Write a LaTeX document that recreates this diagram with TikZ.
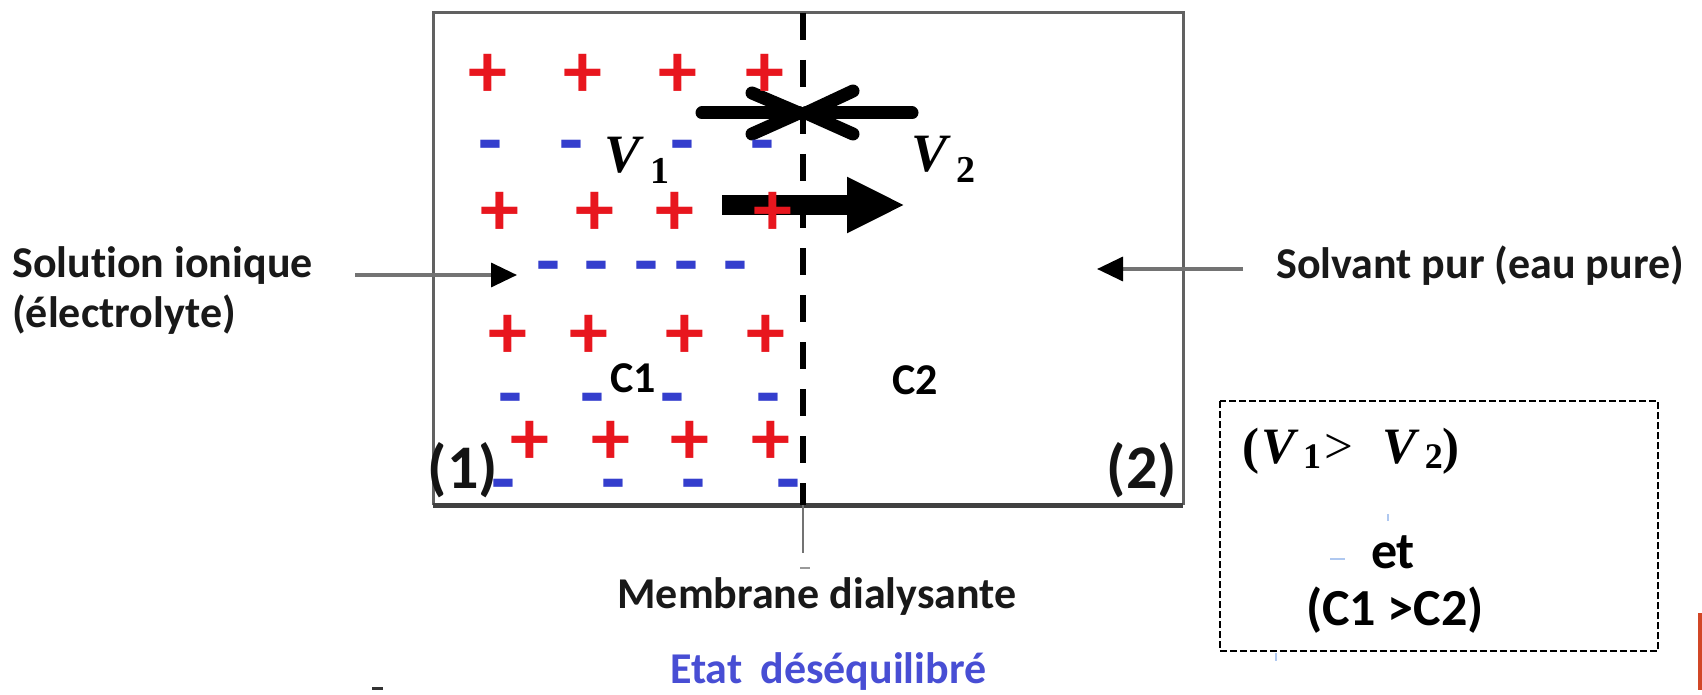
\documentclass[tikz,border=0pt]{standalone}
\usepackage{fontspec}
\setmainfont{Carlito}[Ligatures=NoCommon]
\newfontfamily\vfont{Liberation Serif}
\usetikzlibrary{arrows.meta}
\definecolor{ionred}{RGB}{232,22,30}
\definecolor{ionblue}{RGB}{52,62,205}
\definecolor{etatblue}{RGB}{72,78,212}
\definecolor{slideorange}{RGB}{210,71,38}
\definecolor{faintblue}{RGB}{175,200,240}
\begin{document}
\begin{tikzpicture}[x=1pt,y=-1pt,
  lbl/.style={font=\bfseries\fontsize{44}{50}\selectfont, text=black!90, inner sep=0pt},
  clbl/.style={font=\bfseries\fontsize{44}{44}\selectfont, text=black, inner sep=0pt, anchor=base},
  numlbl/.style={font=\bfseries\fontsize{62}{62}\selectfont, text=black!92, inner sep=0pt, anchor=base},
  vlab/.style={font=\vfont\bfseries\fontsize{54}{54}\selectfont, inner sep=0pt, anchor=base west},
  boxtxt/.style={font=\bfseries\fontsize{52}{52}\selectfont, inner sep=0pt, anchor=base},
  ionpos/.style={font=\bfseries\fontsize{78}{78}\selectfont, text=ionred, inner sep=0pt, anchor=base},
  ionneg/.style={font=\bfseries\fontsize{78}{78}\selectfont, text=ionblue, inner sep=0pt, anchor=base},
  boxline/.style={draw=black!62, line width=3pt},
  boxbottom/.style={draw=black!75, line width=5pt},
  membrane/.style={draw=black, line width=6pt, dash pattern=on 27pt off 20pt},
  barb/.style={draw=black, line width=13pt, line cap=round, line join=round},
  bigarrow/.style={draw=black, line width=20pt, -{Triangle[length=58pt,width=52pt]}},
  ptr/.style={draw=black!55, line width=3.5pt, -{Triangle[length=26pt,width=24pt,color=black]}},
  dashbox/.style={draw=black, line width=1.5pt, dash pattern=on 7pt off 3pt}
]
\useasboundingbox (0,0) rectangle (1702,695);
\fill[white] (0,0) rectangle (1702,695);

% container
\coordinate (bNW) at (433,13);
\coordinate (bNE) at (1183,13);
\coordinate (bSW) at (433,505);
\coordinate (bSE) at (1183,505);
\draw[boxline] (bSW) -- (bNW) -- (bNE) -- (bSE);
\draw[boxbottom] (bSW) -- (bSE);

% membrane
\coordinate (mTop) at (803,13);
\coordinate (mBot) at (803,505);
\coordinate (mEnd) at (803,553);
\draw[membrane] (mTop) -- (mBot);
\draw[draw=black!55, line width=2pt] (mBot) -- (mEnd);
\draw[draw=black!40, line width=2pt] (800,568) -- (810,568);

% big flux arrow
\coordinate (fA) at (722,205);
\coordinate (fB) at (905,205);
\draw[bigarrow] (fA) -- (fB);

% converging arrows V1 V2
\coordinate (tip) at (799,113);
\coordinate (tipR) at (806,113);
\coordinate (aL) at (702,113);
\coordinate (aR) at (912,113);
\draw[barb] (aL) -- (tip);
\draw[barb] (752,93) -- (tip) -- (752,134);
\draw[barb] (aR) -- (tipR);
\draw[barb] (853,91) -- (tipR) -- (853,134);

% ions +
\foreach \x/\y [count=\i] in {488/72,583/72,678/72,765/72,
  500/209,595/209,675/209,773/209,
  508/332,589/332,685/332,766/332,
  530/438,611/438,690/438,771/438}
  \node[ionpos] (p\i) at (\x,\y+26) {+};
% ions -
\foreach \x/\y [count=\i] in {490/146,571/146,682/146,762/146,
  548/266,596/266,646/266,686/266,735/266,
  510/398,592/398,672/398,768/398,
  503/484,613/484,693/484,788/484}
  \node[ionneg] (n\i) at (\x,\y+21) {-};

% labels inside
\node[clbl] (c1) at (633,392) {C1};
\node[clbl] (c2) at (915,394) {C2};
\node[numlbl] (one) at (463,488) {(1)};
\node[numlbl] (two) at (1142,488) {(2)};
\node[vlab] (v1) at (604,173) {\itshape V\kern10pt\raisebox{-11pt}{\upshape\fontsize{38}{38}\selectfont 1}};
\node[vlab] (v2) at (911,172) {\itshape V\kern9pt\raisebox{-11pt}{\upshape\fontsize{38}{38}\selectfont 2}};

% side labels and pointers
\node[lbl, anchor=base west, align=left] (sol) at (12,327) {Solution ionique\\(électrolyte)};
\node[lbl, anchor=base west] (solv) at (1276,278) {Solvant pur (eau pure)};
\coordinate (sA) at (355,275);
\coordinate (sB) at (517,275);
\draw[ptr] (sA) -- (sB);
\coordinate (wA) at (1243,269);
\coordinate (wB) at (1097,269);
\draw[ptr] (wA) -- (wB);

% bottom labels
\node[lbl, anchor=base] (memb) at (817,608) {Membrane dialysante};
\node[lbl, anchor=base west, text=etatblue] (etat) at (670,683) {Etat\hspace{8pt} déséquilibré};

% condition box
\draw[dashbox] (1220,401) rectangle (1658,651);
\node[vlab, font=\vfont\bfseries\fontsize{51}{51}\selectfont] (cond1) at (1242,463)
  {(\kern2pt\itshape V\kern8pt\raisebox{-5pt}{\upshape\fontsize{36}{36}\selectfont 1}\upshape\mdseries\kern3pt>\kern30pt\bfseries\itshape V\kern8pt\raisebox{-5pt}{\upshape\fontsize{36}{36}\selectfont 2}\upshape)};
\node[boxtxt] (et) at (1393,568) {et};
\node[boxtxt] (cond2) at (1395,625) {(C1 >C2)};

% faint artefacts
\draw[faintblue, line width=2pt] (1330,559) -- (1345,559);
\draw[faintblue, line width=2pt] (1388,514) -- (1388,521);
\draw[faintblue, line width=2pt] (1276,653) -- (1276,661);
\draw[black!80, line width=3pt] (372,688) -- (383,688);
\fill[slideorange] (1698,613) rectangle (1702,690);
\end{tikzpicture}
\end{document}
